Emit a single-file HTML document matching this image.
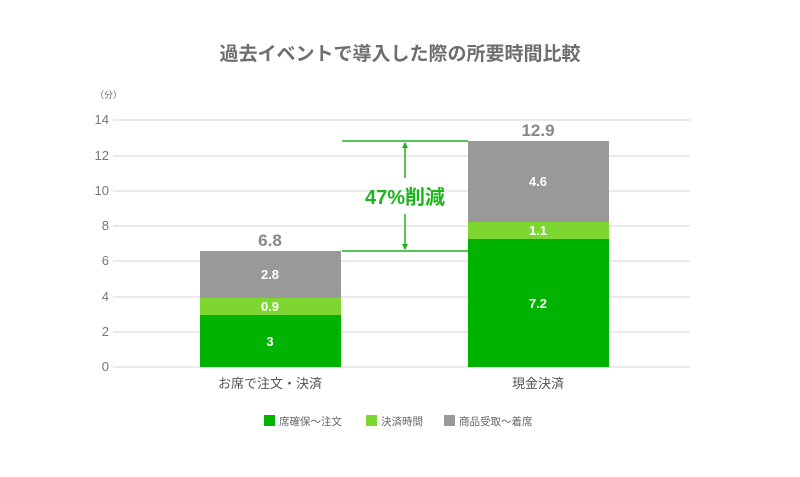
<!DOCTYPE html><html><head><meta charset="utf-8"><style>
body{margin:0;background:#fff;}
svg text{font-family:"Liberation Sans","Noto Sans CJK JP",sans-serif;}
</style></head><body>
<svg width="800" height="472" xmlns="http://www.w3.org/2000/svg">
<text x="400" y="60" text-anchor="middle" font-size="19" font-weight="bold" fill="#6e6e6e">過去イベントで導入した際の所要時間比較</text>
<text x="95" y="98" font-size="9" fill="#666">（分）</text>
<g stroke="#e3e3e3" stroke-width="1.5">
<line x1="113" x2="690" y1="120" y2="120"/><line x1="113" x2="690" y1="156" y2="156"/><line x1="113" x2="690" y1="191" y2="191"/><line x1="113" x2="690" y1="226" y2="226"/><line x1="113" x2="690" y1="261" y2="261"/><line x1="113" x2="690" y1="297" y2="297"/><line x1="113" x2="690" y1="332" y2="332"/><line x1="113" x2="690" y1="367" y2="367"/>
</g>
<g font-size="13" fill="#777" text-anchor="end">
<text x="109" y="124">14</text><text x="109" y="160">12</text><text x="109" y="195">10</text><text x="109" y="230">8</text><text x="109" y="265">6</text><text x="109" y="301">4</text><text x="109" y="336">2</text><text x="109" y="371">0</text>
</g>
<rect x="200" y="251" width="141" height="47" fill="#999"/>
<rect x="200" y="298" width="141" height="17" fill="#7ed631"/>
<rect x="200" y="315" width="141" height="52" fill="#00b300"/>
<rect x="468" y="141" width="141" height="81" fill="#999"/>
<rect x="468" y="222" width="141" height="17" fill="#7ed631"/>
<rect x="468" y="239" width="141" height="128" fill="#00b300"/>
<g font-size="13" font-weight="bold" fill="#fff" text-anchor="middle">
<text x="270" y="279">2.8</text><text x="270" y="311">0.9</text><text x="270" y="346">3</text>
<text x="538" y="186">4.6</text><text x="538" y="235">1.1</text><text x="538" y="308">7.2</text>
</g>
<g font-size="17" font-weight="bold" fill="#888" text-anchor="middle">
<text x="270" y="246">6.8</text><text x="538" y="136">12.9</text>
</g>
<g stroke="#1db31d" stroke-width="1.5" fill="none">
<line x1="342" x2="468" y1="141" y2="141"/><line x1="342" x2="468" y1="251" y2="251"/>
<line x1="405" x2="405" y1="143" y2="178"/><line x1="405" x2="405" y1="214" y2="249"/>
</g>
<path d="M402 148 L405 142 L408 148Z M402 244 L405 250 L408 244Z" fill="#1db31d"/>
<text x="405" y="204" text-anchor="middle" font-size="20" font-weight="bold" fill="#1db31d">47%削減</text>
<g font-size="13" fill="#555" text-anchor="middle">
<text x="270" y="388">お席で注文・決済</text><text x="538" y="388">現金決済</text>
</g>
<g font-size="10.5" fill="#666">
<rect x="264" y="415" width="11" height="11" fill="#00b300"/><text x="279" y="425">席確保～注文</text>
<rect x="366" y="415" width="11" height="11" fill="#7ed631"/><text x="381" y="425">決済時間</text>
<rect x="444" y="415" width="11" height="11" fill="#999"/><text x="459" y="425">商品受取～着席</text>
</g>
</svg>
</body></html>
